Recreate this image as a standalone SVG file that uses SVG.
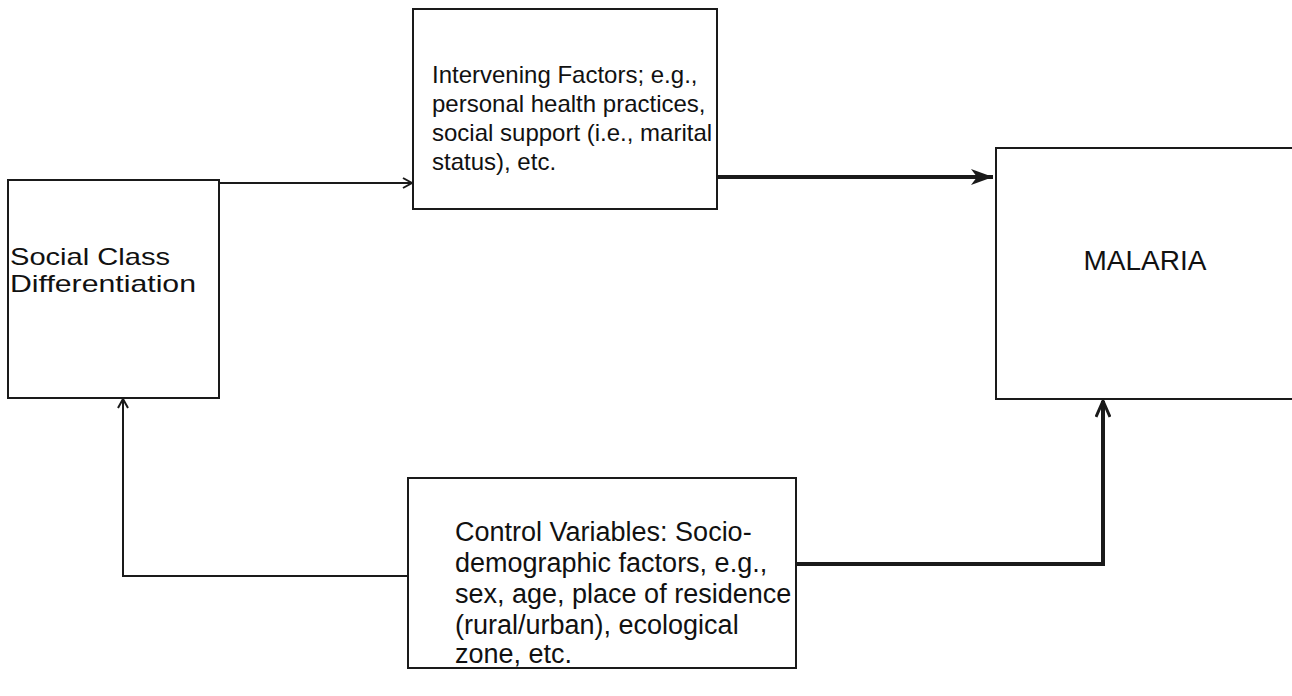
<svg xmlns="http://www.w3.org/2000/svg" width="1292" height="696" viewBox="0 0 1292 696">
<defs>
<style>
.box{fill:#fff;stroke:#1a1a1a;stroke-width:2}
.t{font-family:"Liberation Sans",Arial,sans-serif;fill:#111}
.s{font-size:24px}
.m{font-size:24px}
.c{font-size:27px}
.big{font-size:28px}
.thin{fill:none;stroke:#1a1a1a;stroke-width:2}
.thick{fill:none;stroke:#1a1a1a;stroke-width:4}
</style>
<marker id="open" markerWidth="12" markerHeight="12" refX="10" refY="6" orient="auto" markerUnits="userSpaceOnUse">
<path d="M1,1 L10,6 L1,11" fill="none" stroke="#1a1a1a" stroke-width="2"/>
</marker>
<marker id="fill" markerWidth="24" markerHeight="20" refX="22" refY="10" orient="auto" markerUnits="userSpaceOnUse">
<path d="M0,2 L22,10 L0,18 L6,10 Z" fill="#1a1a1a"/>
</marker>
<marker id="up" markerWidth="20" markerHeight="16" refX="18" refY="8" orient="auto" markerUnits="userSpaceOnUse">
<path d="M2,1 L18,8 L2,15" fill="none" stroke="#1a1a1a" stroke-width="3"/>
</marker>
</defs>
<rect width="1292" height="696" fill="#fff"/>
<g id="connectors">
<line class="thin" x1="220" y1="183" x2="412" y2="183" marker-end="url(#open)"/>
<line class="thick" x1="717" y1="177" x2="993" y2="177" marker-end="url(#fill)"/>
<polyline class="thin" points="408,576 123,576 123,399" marker-end="url(#open)"/>
<polyline class="thick" points="796,564 1103,564 1103,401" marker-end="url(#up)"/>
</g>
<g id="social-class">
<rect class="box" x="8" y="180" width="211" height="218"/>
<text class="t s" x="10" y="265" textLength="160" lengthAdjust="spacingAndGlyphs">Social Class</text>
<text class="t s" x="10" y="292" textLength="186" lengthAdjust="spacingAndGlyphs">Differentiation</text>
</g>
<g id="intervening">
<rect class="box" x="413" y="9" width="304" height="200"/>
<text class="t m" x="432" y="83">Intervening Factors; e.g.,</text>
<text class="t m" x="432" y="112">personal health practices,</text>
<text class="t m" x="432" y="141">social support (i.e., marital</text>
<text class="t m" x="432" y="170">status), etc.</text>
</g>
<g id="malaria">
<rect class="box" x="996" y="148" width="310" height="251"/>
<text class="t big" x="1145" y="270" text-anchor="middle">MALARIA</text>
</g>
<g id="control">
<rect class="box" x="408" y="478" width="388" height="190"/>
<text class="t c" x="455" y="541">Control Variables: Socio-</text>
<text class="t c" x="455" y="572">demographic factors, e.g.,</text>
<text class="t c" x="455" y="603">sex, age, place of residence</text>
<text class="t c" x="455" y="634">(rural/urban), ecological</text>
<text class="t c" x="455" y="663">zone, etc.</text>
</g>
</svg>
